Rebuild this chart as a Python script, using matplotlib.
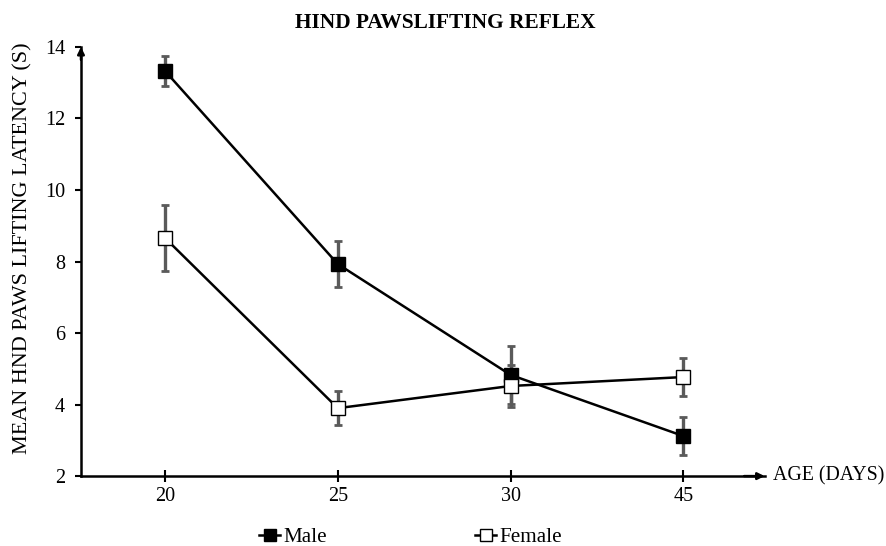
import matplotlib
matplotlib.use("Agg")
import matplotlib.pyplot as plt
import numpy as np

plt.rcParams['font.family'] = ['Liberation Serif', 'DejaVu Serif']

ages = ["20", "25", "30", "45"]
male = [13.33, 7.93, 4.83, 3.12]
male_err = [0.42, 0.65, 0.80, 0.52]
female = [8.66, 3.90, 4.52, 4.77]
female_err = [0.93, 0.48, 0.60, 0.52]
yticks = [2, 4, 6, 8, 10, 12, 14]

fig = plt.figure(figsize=(8.86, 5.46), dpi=100)
ax = fig.add_axes([0.0914, 0.128, 0.7716, 0.786])
x = np.arange(len(ages))

ecol = "#5a5a5a"
ax.errorbar(x, male, yerr=male_err, fmt="none", ecolor=ecol, elinewidth=2.4,
            capsize=3.0, capthick=2.0, zorder=2)
ax.errorbar(x, female, yerr=female_err, fmt="none", ecolor=ecol, elinewidth=2.4,
            capsize=3.0, capthick=2.0, zorder=2)
ax.plot(x, male, color="black", lw=1.8, marker="s", ms=10, mfc="black",
        mec="black", label="Male", zorder=3)
ax.plot(x, female, color="black", lw=1.8, marker="s", ms=10, mfc="white",
        mec="black", mew=1.0, label="Female", zorder=3)

ax.set_xlim(-0.486, 3.47)
ax.set_ylim(2, 14)
ax.set_xticks(x)
ax.set_xticklabels(ages, fontsize=14.5)
ax.set_yticks(yticks)
ax.set_yticklabels([str(v) for v in yticks], fontsize=14.5)
ax.tick_params(axis="x", direction="inout", length=8, width=1.5, pad=4)
ax.tick_params(axis="y", direction="out", length=4.5, width=1.5, pad=7)
for s in ["top", "right"]:
    ax.spines[s].set_visible(False)
for s in ["left", "bottom"]:
    ax.spines[s].set_linewidth(1.8)

# arrows
ax.annotate("", xy=(1.0, 0), xycoords="axes fraction", xytext=(0.97, 0),
            arrowprops=dict(arrowstyle="-|>", color="black", lw=1.8,
                            mutation_scale=10, shrinkA=0, shrinkB=0))
ax.annotate("", xy=(0, 1.0), xycoords="axes fraction", xytext=(0, 0.97),
            arrowprops=dict(arrowstyle="-|>", color="black", lw=1.8,
                            mutation_scale=10, shrinkA=0, shrinkB=0))

ax.text(1.012, 0.0, "AGE (DAYS)", transform=ax.transAxes, fontsize=14.3,
        ha="left", va="center")
ax.set_ylabel("MEAN HND PAWS LIFTING LATENCY (S)", fontsize=15.9)
ax.yaxis.set_label_coords(-0.071, 0.531)
fig.text(0.502, 0.958, "HIND PAWSLIFTING REFLEX", fontsize=15.4, fontweight="bold",
         ha="center", va="center")

fig.legend(loc="center", bbox_to_anchor=(0.4635, 0.016), ncol=2, frameon=False,
           fontsize=15.2, handlelength=1.0, handletextpad=0.15, columnspacing=7.0,
           markerscale=0.8)

fig.savefig("out.png", dpi=100)
